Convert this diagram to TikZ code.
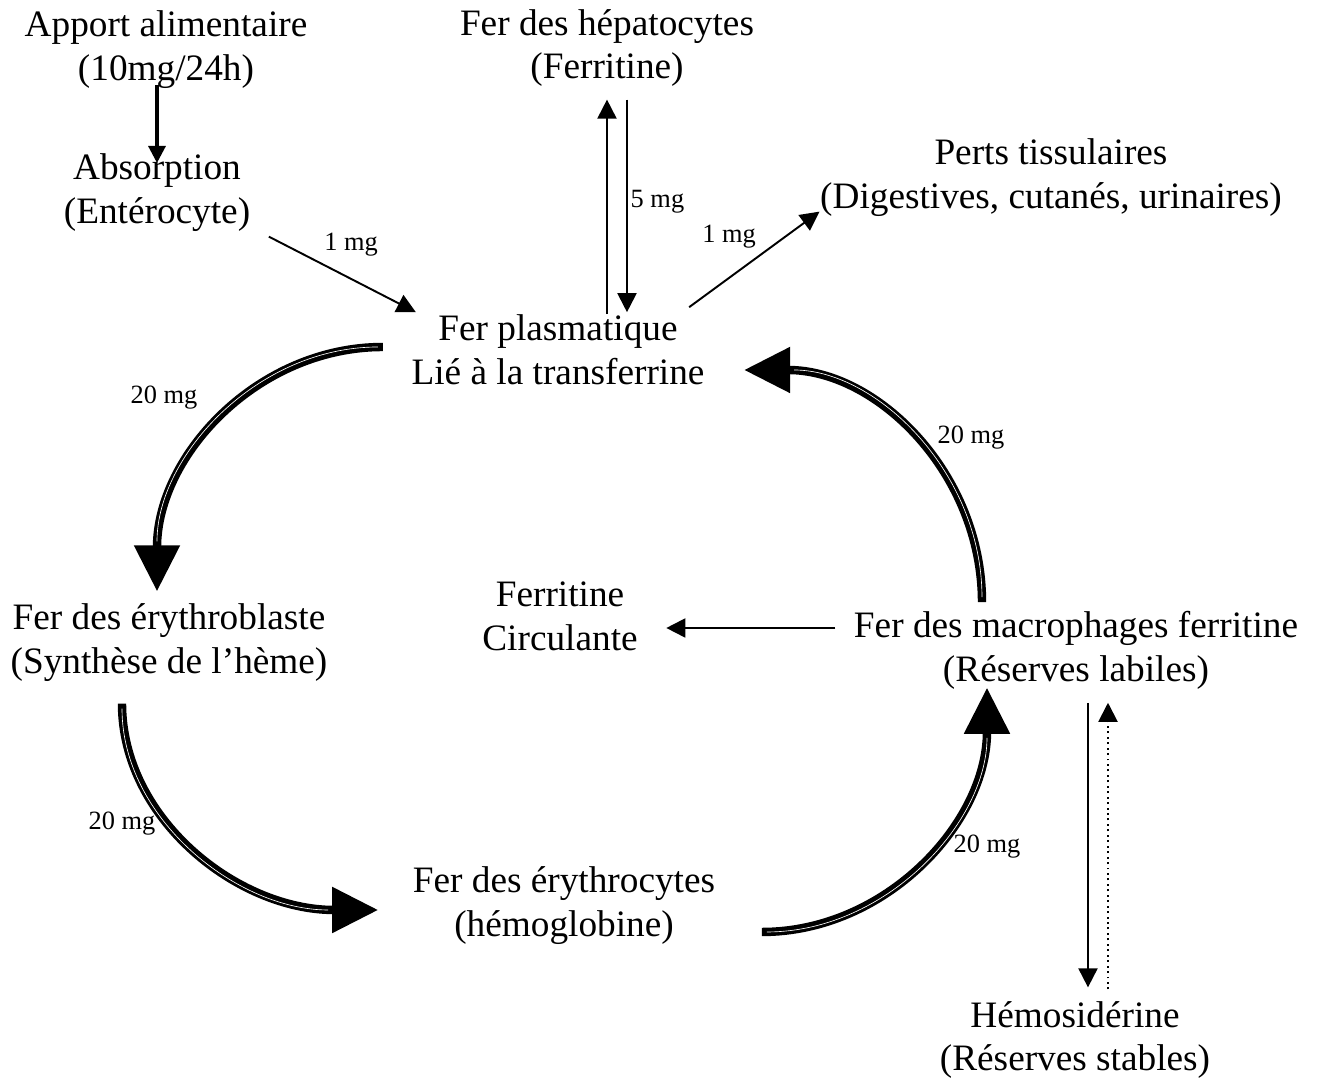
\documentclass[tikz,border=0pt]{standalone}
\usepackage{fontspec}
\setmainfont{Liberation Serif}
\usepackage{tikz}
\usetikzlibrary{arrows.meta,calc}
\usetikzlibrary{positioning}
\tikzstyle{txtnode} = [align=center,inner sep=0pt,font=\fontsize{10.6}{12.5}\selectfont]
\tikzstyle{mgnode} = [inner sep=0pt,font=\fontsize{7.5}{9}\selectfont]
\tikzstyle{thinarrow} = [line width=0.55pt,-{Triangle[length=0.19cm,width=0.19cm]}]
\tikzstyle{feedarrow} = [line width=0.9pt,-{Triangle[length=0.17cm,width=0.17cm]}]
\tikzstyle{bigarrow} = [line width=2.4pt,-{Triangle[length=0.46cm,width=0.44cm]},
  postaction={draw=white,line width=0.18pt,arrows=-,shorten >=0.5cm,shorten <=0.05cm}]

\begin{document}
\begin{tikzpicture}[x=0.01cm,y=0.01cm]
%
\useasboundingbox (0,0) rectangle (1317,-1083);

\node (apport) [txtnode] at (166,-50) {Apport alimentaire\\(10mg/24h)};
\node (absorp) [txtnode] at (157,-193) {Absorption\\(Entérocyte)};
\node (hepato) [txtnode] at (607,-48) {Fer des hépatocytes\\(Ferritine)};
\node (pertes) [txtnode] at (1051,-178) {Perts tissulaires\\(Digestives, cutanés, urinaires)};
\node (plasma) [txtnode] at (558,-350) {Fer plasmatique\\Lié à la transferrine};
\node (blast) [txtnode] at (169,-643) {Fer des érythroblaste\\(Synthèse de l’hème)};
\node (circul) [txtnode] at (560,-616) {Ferritine\\Circulante};
\node (macro) [txtnode] at (1076,-650) {Fer des macrophages ferritine\\(Réserves labiles)};
\node (erythro) [txtnode] at (564,-906) {Fer des érythrocytes\\(hémoglobine)};
\node (hemo) [txtnode] at ($ (macro)+(-1,-390) $) {Hémosidérine\\(Réserves stables)};

%
\node (mgabs) [mgnode] at (351,-245) {1 mg};
\node (mghep) [mgnode,anchor=west] at (630,-202) {5 mg};
\node (mgper) [mgnode] at (729,-237) {1 mg};
\node (mgblast) [mgnode] at (164,-398) {20 mg};
\node (mgmacro) [mgnode] at (971,-438) {20 mg};
\node (mgery) [mgnode] at (122,-824) {20 mg};
\node (mgret) [mgnode] at (987,-847) {20 mg};

%
\draw [feedarrow,shorten <=0.35cm,shorten >=0.3cm] (apport.center -| absorp) to (absorp.center);
\draw [thinarrow] ($ (absorp.south east)+(18,-4) $) to ($ (plasma.north west)+(5,2) $);
\draw [thinarrow] (plasma.north -| hepato) to ($ (hepato.south)+(0,-12) $);
\draw [thinarrow] ($ (hepato.south)+(20,-12) $) to ($ (plasma.north -| hepato)+(20,2) $);
\draw [thinarrow] ($ (plasma.north east)+(-16,7) $) to ($ (pertes.south west)+(0,6) $);
\draw [thinarrow,shorten <=0.18cm] ($ (macro.west)+(0,22) $) to ($ (circul.east)+(28,-12) $);
\draw [thinarrow] ($ (macro.south)+(12,-13) $) to ($ (hemo.north)+(13,13) $);
\draw [thinarrow,densely dotted] ($ (hemo.north)+(33,11) $) to ($ (macro.south)+(32,-13) $);

%
\draw [bigarrow] ($ (plasma.west)+(-28,3) $) .. controls +(-125,0) and +(0,136) .. ($ (blast.north)+(-12,12) $);
\draw [bigarrow] ($ (blast.south)+(-47,-21) $) .. controls +(0,-115) and +(-141,0) .. ($ (erythro.west)+(-34,-4) $);
\draw [bigarrow] ($ (erythro.east)+(46,-26) $) .. controls +(124,0) and +(0,-135) .. ($ (macro.south)+(-89,2) $);
\draw [bigarrow] ($ (macro.north)+(-94,8) $) .. controls +(0,129) and +(133,0) .. ($ (plasma.east)+(39,-20) $);
\end{tikzpicture}
\end{document}
